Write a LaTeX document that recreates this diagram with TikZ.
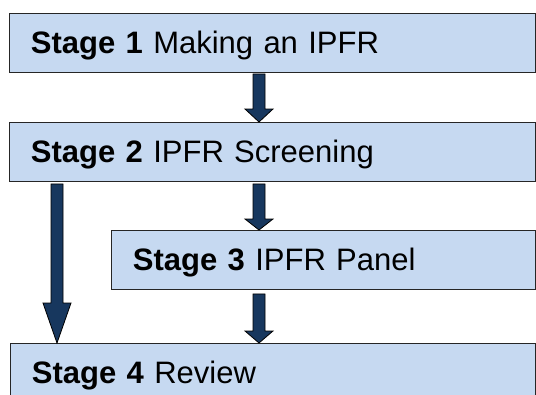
\documentclass[tikz,border=0pt]{standalone}
\usepackage{fontspec}
\setmainfont{Liberation Sans}
\usetikzlibrary{positioning,calc}

\definecolor{boxblue}{HTML}{C6D9F1}
\definecolor{arrownavy}{HTML}{17375E}

\tikzset{
  stagebox/.style={draw=black!85, line width=0.9pt, fill=boxblue, anchor=north west,
    minimum height=59pt, inner xsep=21.5pt, inner ysep=0pt, align=left,
    text height=22pt, text depth=0pt, text width=#1,
    font=\fontsize{31}{36}\selectfont},
  blockarrow/.style={draw=black, line width=0.8pt, fill=arrownavy, line join=miter}
}

% block arrow: from #1 down to the tip #2, head length #3
\newcommand{\blockarrow}[3]{%
  \draw[blockarrow] ($(#1)+(-6,0)$) -- ($(#2)+(-6,-#3)$) -- ($(#2)+(-14,-#3)$)
    -- (#2) -- ($(#2)+(14,-#3)$) -- ($(#2)+(6,-#3)$) -- ($(#1)+(6,0)$) -- cycle;}

\begin{document}
\begin{tikzpicture}[x=1pt,y=-1pt]
  \useasboundingbox (0,0) rectangle (536,394);
  \clip (0,0) rectangle (536,394);

  \coordinate (colA) at (259,0);
  \coordinate (colB) at (57,0);

  % Stage 1
  \node[stagebox=483pt] (s1) at (9,13) {\textbf{Stage 1} Making an IPFR};
  % Stage 2
  \node[stagebox=483pt] (s2) at (9,122) {\textbf{Stage 2} IPFR Screening};
  % Stage 3
  \node[stagebox=381pt] (s3) at (111,230) {\textbf{Stage 3} IPFR Panel};
  % Stage 4
  \node[stagebox=482pt] (s4) at (10,343) {\textbf{Stage 4} Review};

  % arrows
  \coordinate (a1) at ($(s1.south -| colA)+(0,1)$);
  \coordinate (a2) at ($(s2.south -| colA)+(0,2)$);
  \coordinate (a3) at ($(s3.south -| colA)+(0,4)$);
  \coordinate (a4) at ($(s2.south -| colB)+(0,2)$);
  \blockarrow{a1}{s2.north -| colA}{13}
  \blockarrow{a2}{s3.north -| colA}{11}
  \blockarrow{a3}{s4.north -| colA}{12}
  \blockarrow{a4}{s4.north -| colB}{40}
\end{tikzpicture}
\end{document}
